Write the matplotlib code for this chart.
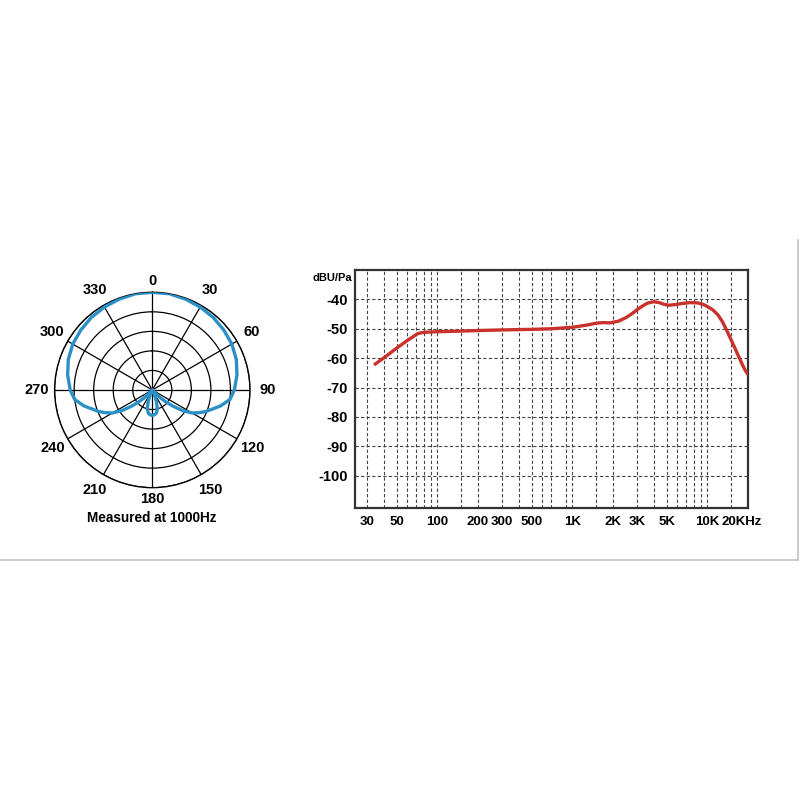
import numpy as np
import matplotlib
matplotlib.use("Agg")
import matplotlib.pyplot as plt
from matplotlib.transforms import ScaledTranslation

plt.rcParams['font.family'] = ['Liberation Sans', 'DejaVu Sans']
plt.rcParams['font.weight'] = 'bold'

# ---------------- data ----------------
# polar pattern (degrees, relative radius), right half; left half mirrors it
polar_angles = [0, 10, 20, 30, 40, 50, 60, 70, 80, 90, 97, 103, 108, 112, 116,
                120, 124, 128, 131, 134, 137, 140, 145, 150, 155, 160, 165, 170, 175, 180]
polar_radius = [1.00, 1.00, 0.99, 0.98, 0.97, 0.955, 0.94, 0.915, 0.88, 0.84, 0.80, 0.72,
                0.64, 0.59, 0.53, 0.47, 0.38, 0.27, 0.19, 0.12, 0.05, 0.01, 0.0, 0.0,
                0.05, 0.12, 0.20, 0.24, 0.255, 0.26]
polar_tick_angles = [0, 30, 60, 90, 120, 150, 180, 210, 240, 270, 300, 330]
polar_tick_labels = ['0', '30', '60', '90', '120', '150', '180', '210', '240', '270', '300', '330']

freq_hz = [34, 40, 50, 60, 72, 80, 100, 150, 200, 300, 500, 700, 1000, 1300, 1500, 1700,
           1900, 2200, 2500, 2800, 3000, 3300, 3600, 4000, 4400, 4800, 5200, 5700, 6500,
           7500, 8500, 9300, 10000, 11000, 12000, 13000, 14000, 15000, 16000, 17000,
           18000, 19000, 20000]
level_db = [-62.3, -60.0, -56.6, -54.0, -51.6, -51.2, -51.0, -50.8, -50.6, -50.4, -50.2,
            -50.0, -49.5, -48.7, -48.1, -47.9, -48.0, -47.4, -46.2, -44.7, -43.6, -42.3,
            -41.3, -40.8, -41.1, -41.7, -42.0, -41.8, -41.4, -41.1, -41.2, -41.7, -42.4,
            -43.6, -45.3, -47.8, -50.8, -53.8, -56.6, -59.3, -61.8, -64.0, -65.6]
freq_grid = [30, 40, 50, 60, 70, 80, 90, 100, 150, 200, 300, 400, 500, 600, 700, 900,
             1000, 1500, 2000, 3000, 4000, 5000, 6000, 7000, 8000, 9000, 10000, 15000]
freq_ticks = [30, 50, 100, 200, 300, 500, 1000, 2000, 3000, 5000, 10000, 20000]
freq_tick_labels = ['30', '50', '100', '200', '300', '500', '1K', '2K', '3K', '5K', '10K', '20KHz']
db_ticks = [-40, -50, -60, -70, -80, -90, -100]

# ---------------- figure ----------------
fig = plt.figure(figsize=(8, 8), dpi=100)
fig.patch.set_facecolor('white')

# faint frame
fig.add_artist(plt.Line2D([0, 0.9975], [0.3, 0.3], color='#c4c4c4', lw=1.2))
fig.add_artist(plt.Line2D([0.9975, 0.9975], [0.3, 0.7], color='#c4c4c4', lw=1.2))

# ---------------- polar ----------------
axp = fig.add_axes([0.06825, 0.3904, 0.24425, 0.24425], projection='polar')
axp.set_theta_zero_location('N')
axp.set_theta_direction(-1)
axp.set_ylim(0, 1)
axp.set_rgrids([0.2, 0.4, 0.6, 0.8, 1.0], labels=[])
axp.set_thetagrids(polar_tick_angles, labels=[])
axp.grid(True, color='black', lw=0.9)
axp.spines['polar'].set_color('black')
axp.spines['polar'].set_linewidth(1.0)
axp.tick_params(length=0)

ang = np.array(polar_angles, dtype=float)
rad = np.array(polar_radius, dtype=float)
full_ang = np.concatenate([ang, 360 - ang[::-1][1:]])
full_rad = np.concatenate([rad, rad[::-1][1:]])
axp.plot(np.deg2rad(full_ang), full_rad, color='#2b90c8', lw=2.4, zorder=5)

for a, lab in zip(polar_tick_angles, polar_tick_labels):
    r = 1.12 if a in (0, 180) else 1.18
    axp.text(np.deg2rad(a), r, lab, ha='center', va='center', fontsize=10.5,
             fontweight='bold', clip_on=False)

fig.text(152 / 800, 1 - 518 / 800, 'Measured at 1000Hz', ha='center', va='center',
         fontsize=9.8, fontweight='bold')

# ---------------- frequency response ----------------
ax = fig.add_axes([355 / 800, 1 - 508 / 800, 393 / 800, 238 / 800])
ax.set_xscale('log')
ax.set_xlim(24.6, 20000)
ax.set_ylim(-111, -30)
for f in freq_grid:
    ax.axvline(f, color='#444444', lw=0.8, ls=(0, (3, 2)), zorder=1)
for d in db_ticks:
    ax.axhline(d, color='#444444', lw=0.8, ls=(0, (3, 2)), zorder=1)
ax.plot(freq_hz, level_db, color='#c9312b', lw=2.4, zorder=5,
        solid_joinstyle='round', solid_capstyle='butt')

ax.set_xticks(freq_ticks)
ax.set_xticklabels(freq_tick_labels, fontsize=9.5, fontweight='bold')
ax.xaxis.set_minor_locator(matplotlib.ticker.NullLocator())
ax.set_yticks(db_ticks)
ax.set_yticklabels([str(d) for d in db_ticks], fontsize=10.5, fontweight='bold')
ax.tick_params(axis='y', length=0, pad=5)
ax.tick_params(axis='x', length=0, pad=6)
for s in ax.spines.values():
    s.set_color('#333333')
    s.set_linewidth(1.6)

last = ax.get_xticklabels()[-1]
last.set_transform(last.get_transform() + ScaledTranslation(-6 / 100, 0, fig.dpi_scale_trans))

fig.text(332 / 800, 1 - 278 / 800, 'dBU/Pa', ha='center', va='center',
         fontsize=8, fontweight='bold')

fig.savefig('out.png', dpi=100, facecolor='white')
